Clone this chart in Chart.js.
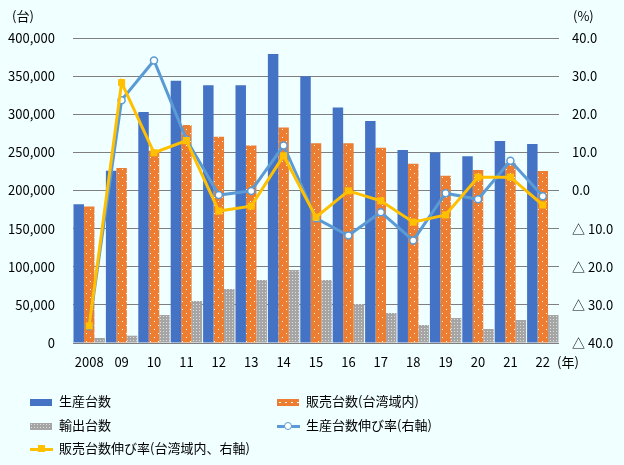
<!DOCTYPE html>
<html>
<head>
<meta charset="utf-8">
<script src="https://cdn.jsdelivr.net/npm/chart.js@4"></script>
<style>
  body { margin: 0; background: #f0ffff; font-family: "Noto Sans CJK JP", sans-serif; }
  #wrap { position: relative; width: 624px; height: 465px; }
  #legend { position: absolute; left: 0; top: 0; width: 624px; height: 465px; pointer-events: none; }
  .item { position: absolute; font-size: 13px; color: #000; line-height: 16px; white-space: nowrap; }
  .sw { position: absolute; }
</style>
</head>
<body>
<div id="wrap">
  <canvas id="myChart"></canvas>
  <div id="legend"></div>
</div>
<script>
const years = ['2008', '09', '10', '11', '12', '13', '14', '15', '16', '17', '18', '19', '20', '21', '22'];
const production = [182000, 226000, 303000, 344000, 338000, 338000, 379000, 350000, 309000, 291000, 253000, 250000, 245000, 265000, 261000];
const sales = [179000, 229500, 252000, 286000, 270500, 259000, 282500, 262000, 262000, 256000, 235000, 219500, 227000, 236000, 225500];
const exportsData = [6600, 9600, 36700, 55100, 70800, 82600, 95700, 82600, 51100, 39300, 23600, 32800, 18400, 30200, 36700];
const productionGrowth = [-35.6, 23.7, 34.1, 13.4, -1.2, -0.1, 11.8, -7.3, -11.8, -5.7, -13.1, -0.7, -2.3, 7.8, -1.5];
const salesGrowth = [-35.5, 28.3, 9.9, 13.1, -5.4, -4.1, 9.1, -7.0, -0.1, -2.7, -8.3, -6.4, 3.5, 3.5, -3.8];
const seriesLabels = ['生産台数', '販売台数(台湾域内)', '輸出台数', '生産台数伸び率(右軸)', '販売台数伸び率(台湾域内、右軸)'];
const FONT = '"Noto Sans CJK JP", sans-serif';

function makePattern(w, h, base, dot, dots) {
    const c = document.createElement('canvas');
    c.width = w; c.height = h;
    const x = c.getContext('2d');
    x.fillStyle = base;
    x.fillRect(0, 0, w, h);
    x.fillStyle = dot;
    dots.forEach(function (d) { x.fillRect(d[0], d[1], 1, 1); });
    return x.createPattern(c, 'repeat');
}
const orangeFill = makePattern(8, 8, '#ed7d31', '#ffffff', [[2, 1], [6, 5]]);
const grayFill = makePattern(3, 3, '#a5a5a5', '#dedede', [[1, 1]]);

const unitLabels = {
    id: 'unitLabels',
    afterDraw(chart) {
        const ctx = chart.ctx;
        const a = chart.chartArea;
        ctx.save();
        ctx.fillStyle = '#000';
        ctx.font = '13px ' + FONT;
        ctx.textBaseline = 'middle';
        ctx.textAlign = 'left';
        ctx.fillText('(台)', 12, 16);
        ctx.fillText('(%)', a.right + 14, 16);
        ctx.fillText('(年)', a.right - 2, a.bottom + 19);
        ctx.restore();
    }
};

const data = {
    labels: years,
    datasets: [
        { type: 'line', label: seriesLabels[4], data: salesGrowth, yAxisID: 'y1', order: 0,
          borderColor: '#ffc000', backgroundColor: '#ffc000', borderWidth: 3,
          pointStyle: 'rect', pointRadius: 5, pointBorderWidth: 0, tension: 0 },
        { type: 'line', label: seriesLabels[3], data: productionGrowth, yAxisID: 'y1', order: 1,
          borderColor: '#5b9bd5', backgroundColor: '#ffffff', borderWidth: 3,
          pointStyle: 'circle', pointRadius: 3.5, pointBorderWidth: 1.5, pointBorderColor: '#5b9bd5', tension: 0 },
        { type: 'bar', label: seriesLabels[0], data: production, yAxisID: 'y', order: 2, backgroundColor: '#4472c4' },
        { type: 'bar', label: seriesLabels[1], data: sales, yAxisID: 'y', order: 2, backgroundColor: orangeFill },
        { type: 'bar', label: seriesLabels[2], data: exportsData, yAxisID: 'y', order: 2, backgroundColor: grayFill }
    ]
};

const config = {
    type: 'bar',
    data: data,
    options: {
        responsive: true,
        maintainAspectRatio: false,
        animation: false,
        layout: { padding: { top: 38, bottom: 92, left: 0, right: 0 } },
        datasets: { bar: { categoryPercentage: 0.97, barPercentage: 1 } },
        plugins: { legend: { display: false }, tooltip: { enabled: false } },
        scales: {
            x: {
                grid: { display: false, drawTicks: false },
                border: { display: false },
                ticks: { color: '#000', font: { family: FONT, size: 13 }, padding: 11, maxRotation: 0, autoSkip: false },
                afterFit: function (s) { s.height = 30; }
            },
            y: {
                position: 'left',
                min: 0, max: 400000,
                ticks: { stepSize: 50000, color: '#000', font: { family: FONT, size: 13 }, padding: 18,
                         callback: function (v) { return v.toLocaleString('en-US'); } },
                grid: { color: '#7f7f7f', lineWidth: 1, drawTicks: false },
                border: { display: false },
                afterFit: function (s) { s.width = 73; }
            },
            y1: {
                position: 'right',
                min: -40, max: 40,
                ticks: { stepSize: 10, color: '#000', font: { family: FONT, size: 13 }, padding: 13,
                         callback: function (v) { return v < 0 ? '△ ' + Math.abs(v).toFixed(1) : v.toFixed(1); } },
                grid: { display: false, drawTicks: false },
                border: { display: false },
                afterFit: function (s) { s.width = 65; }
            }
        }
    },
    plugins: [unitLabels]
};

const myChart = new Chart(document.getElementById('myChart').getContext('2d'), config);

function buildLegend() {
    const pos = [[30, 402], [277, 402], [30, 426], [277, 426], [30, 449]];
    const box = document.getElementById('legend');
    pos.forEach(function (p, k) {
        const x = p[0], y = p[1];
        let sw = '';
        if (k === 0) sw = '<div class="sw" style="left:' + x + 'px;top:' + (y - 3) + 'px;width:22px;height:7px;background:#4472c4"></div>';
        if (k === 1) sw = '<div class="sw" style="left:' + x + 'px;top:' + (y - 3) + 'px;width:22px;height:7px;background:#ed7d31 radial-gradient(#fff 0.6px, transparent 0.9px) 0 0/6px 7px"></div>';
        if (k === 2) sw = '<div class="sw" style="left:' + x + 'px;top:' + (y - 3) + 'px;width:22px;height:7px;background:#a5a5a5 radial-gradient(#dedede 0.6px, transparent 0.9px) 0 0/3px 3px"></div>';
        if (k === 3) sw = '<div class="sw" style="left:' + x + 'px;top:' + (y - 1) + 'px;width:23px;height:3px;background:#5b9bd5"></div>' +
                          '<div class="sw" style="left:' + (x + 7) + 'px;top:' + (y - 4) + 'px;width:6px;height:6px;border-radius:50%;background:#fff;border:1.5px solid #5b9bd5"></div>';
        if (k === 4) sw = '<div class="sw" style="left:' + x + 'px;top:' + (y - 1) + 'px;width:23px;height:3px;background:#ffc000"></div>' +
                          '<div class="sw" style="left:' + (x + 8) + 'px;top:' + (y - 4) + 'px;width:7px;height:7px;background:#ffc000"></div>';
        box.insertAdjacentHTML('beforeend', sw + '<div class="item" style="left:' + (x + 29) + 'px;top:' + (y - 9) + 'px">' + seriesLabels[k] + '</div>');
    });
}
buildLegend();
</script>
</body>
</html>
